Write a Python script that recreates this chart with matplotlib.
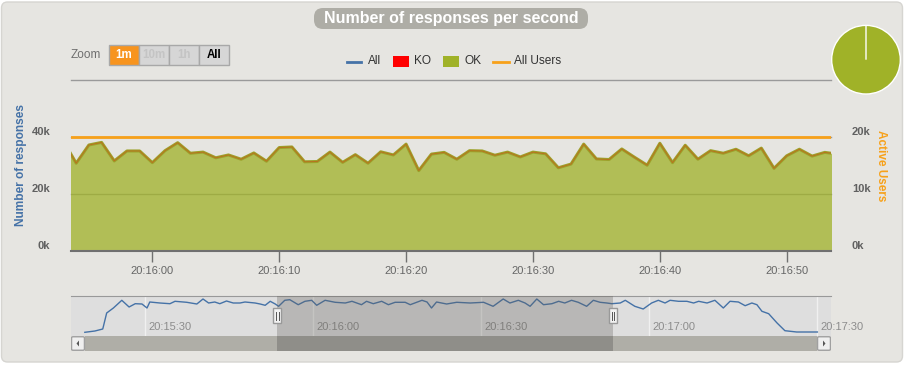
import matplotlib
matplotlib.use('Agg')
import matplotlib.pyplot as plt
from matplotlib.patches import Rectangle, FancyBboxPatch, Polygon
from matplotlib.lines import Line2D
from matplotlib.transforms import IdentityTransform, offset_copy

plt.rcParams['font.family'] = ['Liberation Sans', 'DejaVu Sans']

W, H = 905, 368

# time axis in seconds after 20:15:00
ok_seconds = list(range(53, 115))
ok_values = [38500, 30800, 37200, 38100, 31600, 35100, 35100, 31000, 35200, 38000,
             34300, 34700, 32700, 33700, 32200, 34400, 31500, 36300, 36500, 31300,
             31400, 34700, 31100, 33800, 30800, 34800, 33700, 37500, 28200, 34000,
             34600, 32200, 35200, 35100, 33600, 34700, 33000, 34700, 34100, 29200,
             30500, 37500, 32300, 32100, 35800, 32900, 30100, 37800, 31000, 37100,
             32200, 35200, 34300, 35700, 33400, 36100, 29000, 33400, 35700, 33300,
             34600, 34000]
ko_values = [0] * len(ok_seconds)
users_values = [20000] * len(ok_seconds)

# navigator (whole run)
nav_seconds = [19.2, 21.0, 22.4, 23.1, 24.3, 25.8, 27.1, 28.2, 29.4, 30.3, 30.8, 32.6,
               34.4, 35.3, 37.4, 39.2, 40.3, 41.3, 42.4, 43.3, 44.5, 45.7, 46.9, 47.8,
               49.6, 50.5, 51.4, 52.3, 53.2, 53.8, 54.9, 55.8, 57.3, 58.5, 59.7, 60.6,
               62.1, 63.9, 65.7, 66.9, 68.6, 69.5, 70.7, 72.2, 73.4, 74.6, 76.4, 77.3,
               79.4, 80.3, 81.1, 82.0, 83.8, 85.6, 88.0, 90.4, 92.1, 93.9, 95.1, 96.6,
               97.8, 98.7, 99.9, 101.1, 102.6, 103.8, 104.9, 106.1, 107.3, 108.8, 110.0,
               111.2, 112.4, 113.3, 114.8, 115.7, 117.4, 118.9, 120.4, 121.6, 122.8,
               123.7, 125.2, 126.7, 127.9, 128.8, 130.3, 131.7, 133.2, 134.4, 135.9,
               137.1, 138.3, 139.2, 140.1, 141.3, 142.8, 144.2, 146.3, 150.0]
nav_values = [3700, 5000, 7000, 23000, 28000, 35700, 29000, 32300, 32000, 28000, 34000, 33000,
              32300, 34700, 33700, 32000, 37000, 33000, 34000, 32300, 35000, 33000, 33000, 34000,
              33000, 32000, 30700, 34700, 32000, 29700, 35700, 36300, 31300, 34700, 35700, 30700,
              35700, 33700, 33000, 34700, 31300, 34700, 32300, 34700, 31300, 33700, 33700, 31300,
              35700, 34000, 28000, 34000, 32000, 33700, 33000, 33700, 29700, 37000, 33000, 35700,
              33000, 29700, 37000, 31300, 32300, 34700, 33000, 35700, 33700, 29700, 35700,
              33700, 33000, 32300, 33000, 35700, 29700, 27000, 33000, 35700, 33000,
              35700, 34700, 34700, 33000, 34700, 33000, 35700, 28000, 34700, 34000,
              30300, 33000, 31300, 24700, 22300, 13000, 5300, 4000, 4000]

main_ticks = [60, 70, 80, 90, 100, 110]
main_tick_labels = ['20:16:00', '20:16:10', '20:16:20', '20:16:30', '20:16:40', '20:16:50']
nav_ticks = [30, 60, 90, 120, 150]
nav_tick_labels = ['20:15:30', '20:16:00', '20:16:30', '20:17:00', '20:17:30']
left_ticks = [0, 20000, 40000]
left_tick_labels = ['0k', '20k', '40k']
right_ticks = [0, 10000, 20000]
right_tick_labels = ['0k', '10k', '20k']

view_start, view_end = 53.59, 113.49
nav_start, nav_end = 16.73, 152.43

OK_COLOR = '#A0B228'
BLUE = '#4572A7'
ORANGE = '#F7A11A'

fig = plt.figure(figsize=(W / 100, H / 100), dpi=100)
fig.patch.set_facecolor('white')
ident = IdentityTransform()


def box(x0, y0, x1, y1):
    return [x0 / W, 1 - y1 / H, (x1 - x0) / W, (y1 - y0) / H]


def ftext(x, y, s, **kw):
    return fig.text(x / W, 1 - y / H, s, **kw)


# container
fig.add_artist(FancyBboxPatch((1.5, H - 362), 901, 360, boxstyle='round,pad=0,rounding_size=6',
                              transform=ident, fc='#E6E5E1', ec='#D6D5D1', lw=1, zorder=-10))

# title pill
fig.add_artist(FancyBboxPatch((314, H - 29), 274, 21, boxstyle='round,pad=0,rounding_size=9',
                              transform=ident, fc='#AEADA6', ec='none', zorder=-5))
ftext(451, 18.5, 'Number of responses per second', color='white', fontsize=11.5,
      fontweight='bold', ha='center', va='center')

# zoom buttons
ftext(71, 55.5, 'Zoom', color='#6E6E6E', fontsize=8.5, va='center')
buttons = [('1m', 109, 139, '#F7941E', 'white'), ('10m', 139, 169, '#D6D6D6', '#C4C4C4'),
           ('1h', 169, 199, '#D6D6D6', '#C4C4C4'), ('All', 199, 229, '#D6D6D6', 'black')]
for lab, x0, x1, fc, tc in buttons:
    fig.add_artist(Rectangle((x0, H - 65), x1 - x0, 20, transform=ident, fc=fc,
                             ec='#A8A8A8', lw=1, zorder=-4))
    ftext((x0 + x1) / 2, 55.5, lab, color=tc, fontsize=8.3, fontweight='bold',
          ha='center', va='center')

# legend
fig.add_artist(Line2D([347, 361], [H - 61.7] * 2, transform=ident, color=BLUE, lw=2))
ftext(368, 61.5, 'All', color='#333333', fontsize=8.6, va='center')
fig.add_artist(Rectangle((393, H - 67), 15.5, 11.5, transform=ident, fc='#FF0000', ec='none'))
ftext(414, 61.5, 'KO', color='#333333', fontsize=8.6, va='center')
fig.add_artist(Rectangle((443, H - 67), 15.5, 11.5, transform=ident, fc=OK_COLOR, ec='none'))
ftext(464, 61.5, 'OK', color='#333333', fontsize=8.6, va='center')
fig.add_artist(Line2D([493, 509], [H - 61.7] * 2, transform=ident, color=ORANGE, lw=2))
ftext(514, 61.5, 'All Users', color='#333333', fontsize=8.6, va='center')

# main chart
ax = fig.add_axes(box(71, 80, 831, 251))
ax.set_facecolor('none')
ax.set_xlim(view_start, view_end)
ax.set_ylim(0, 60000)
for g in [20000, 40000, 60000]:
    ax.axhline(g, color='#9A9A9A', lw=1, zorder=1, clip_on=False)
ax.fill_between(ok_seconds, 0, ok_values, color=OK_COLOR, alpha=0.75, lw=0, zorder=2)
ax.plot(ok_seconds, ok_values, color='#9CA22B', lw=2.2, zorder=3)
stacked = [o + k for o, k in zip(ok_values, ko_values)]
ax.plot(ok_seconds, stacked, color='#FF0000', lw=0.7, alpha=0.3, zorder=4)
for s in ['top', 'left', 'right']:
    ax.spines[s].set_visible(False)
ax.spines['bottom'].set_color('#707070')
ax.spines['bottom'].set_linewidth(1.5)
ax.spines['bottom'].set_zorder(5)
ax.set_xticks(main_ticks, main_tick_labels)
ax.tick_params(axis='x', length=8, width=1, color='#707070', labelsize=8,
               labelcolor='#666666', pad=3)
ax.set_yticks(left_ticks, left_tick_labels)
ax.tick_params(axis='y', length=0, pad=15, labelsize=8, labelcolor='#606060')
for lab in ax.get_yticklabels():
    lab.set_fontweight('bold')
    lab.set_va('bottom')

ax2 = ax.twinx()
ax2.set_ylim(0, 30000)
ax2.plot(ok_seconds, users_values, color=ORANGE, lw=2, zorder=5)
for s in ax2.spines.values():
    s.set_visible(False)
ax2.set_yticks(right_ticks, right_tick_labels)
ax2.tick_params(axis='y', length=0, pad=15, labelsize=8, labelcolor='#606060')
for lab in ax2.get_yticklabels():
    lab.set_fontweight('bold')
    lab.set_va('bottom')

ftext(21, 165.5, 'Number of responses', color=BLUE, fontsize=8.6, fontweight='bold',
      rotation=90, ha='center', va='center')
ftext(881, 166, 'Active Users', color=ORANGE, fontsize=8.5, fontweight='bold',
      rotation=270, ha='center', va='center')

# pie
axp = fig.add_axes(box(831, 24.7, 901, 94.7))
axp.pie([sum(ok_values), sum(ko_values)], colors=[OK_COLOR, '#FF0000'], startangle=90,
        counterclock=False, wedgeprops=dict(edgecolor='white', linewidth=1))
axp.set_xlim(-1.02, 1.02)
axp.set_ylim(-1.02, 1.02)

# navigator
axn = fig.add_axes(box(71, 296, 831, 336))
axn.set_xlim(nav_start, nav_end)
axn.set_ylim(0, 40000)
axn.set_facecolor('#DEDEDE')
for t, lab in zip(nav_ticks, nav_tick_labels):
    axn.axvline(t, color='#F0F0F0', lw=1, zorder=1)
    axn.text(t, 9000, lab, transform=offset_copy(axn.transData, fig=fig, x=3, y=0, units='dots'),
             color='#8C8C8C', fontsize=8, va='center', zorder=2)
axn.plot(nav_seconds, nav_values, color=BLUE, lw=1, zorder=3)
axn.axvspan(view_start, view_end, color='#63605A', alpha=0.3, lw=0, zorder=4)
pxs = 5.6  # navigator pixels per second
for t in (view_start, view_end):
    axn.add_patch(Rectangle((t - 4 / pxs, 13000), 8 / pxs, 15000, fc='#F2F2F2', ec='#999999',
                            lw=1, zorder=5))
    for d in (-1.2, 1.2):
        axn.plot([t + d / pxs] * 2, [16500, 24500], color='#555555', lw=0.7, zorder=6)
for s in ['left', 'right', 'bottom']:
    axn.spines[s].set_visible(False)
axn.spines['top'].set_color('#999999')
axn.set_xticks([])
axn.set_yticks([])

# scrollbar
axs = fig.add_axes(box(71, 336, 831, 351))
axs.set_xlim(nav_start, nav_end)
axs.set_ylim(0, 1)
axs.axis('off')
btn = 14 / pxs
axs.add_patch(Rectangle((nav_start + btn, 0), nav_end - nav_start - 2 * btn, 1, fc='#AFAEA7', lw=0))
axs.add_patch(Rectangle((view_start, 0), view_end - view_start, 1, fc='#8F8E89', lw=0))
for x0, direction in ((nav_start, -1), (nav_end - btn, 1)):
    axs.add_patch(FancyBboxPatch((x0 + 0.1, 0.05), btn - 0.2, 0.9,
                                 boxstyle='round,pad=0,rounding_size=0.3',
                                 fc='#EFEFEF', ec='#A0A0A0', lw=1, mutation_aspect=0.2))
    cx = x0 + btn / 2
    axs.add_patch(Polygon([(cx + direction * 1.5 / pxs, 0.5),
                           (cx - direction * 1.0 / pxs, 0.5 + 3 / 15),
                           (cx - direction * 1.0 / pxs, 0.5 - 3 / 15)],
                          closed=True, fc='#555555', ec='none'))

fig.savefig('out.png', dpi=100)
